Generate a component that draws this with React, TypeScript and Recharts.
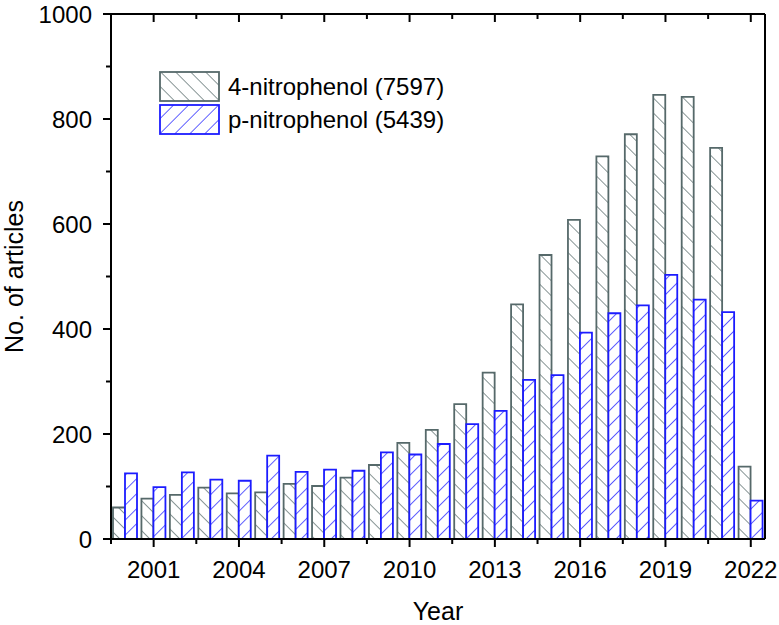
import React from "react";
import { Bar, BarChart, Legend, XAxis, YAxis } from "recharts";

const years = [
  2000, 2001, 2002, 2003, 2004, 2005, 2006, 2007, 2008, 2009, 2010, 2011,
  2012, 2013, 2014, 2015, 2016, 2017, 2018, 2019, 2020, 2021, 2022,
];
const nitro4 = [
  60, 77, 84, 98, 87, 89, 105, 101, 117, 141, 183, 208, 257, 317, 447, 541,
  608, 729, 771, 846, 842, 745, 138,
];
const pNitro = [
  125, 99, 127, 113, 111, 159, 128, 132, 130, 165, 161, 181, 219, 244, 303,
  312, 393, 430, 445, 503, 456, 432, 73,
];
const xTicks = [
  1999.5, 2001, 2002.5, 2004, 2005.5, 2007, 2008.5, 2010, 2011.5, 2013,
  2014.5, 2016, 2017.5, 2019, 2020.5, 2022,
];
const yTicks = [0, 100, 200, 300, 400, 500, 600, 700, 800, 900, 1000];
const seriesNames = ["4-nitrophenol (7597)", "p-nitrophenol (5439)"];

const GREY = "#56696a";
const BLUE = "#1c1cff";
const FONT = '"Liberation Sans", Arial, sans-serif';

const data = years.map((year, i) => ({
  year,
  nitro4: nitro4[i],
  pNitro: pNitro[i],
}));

const Hatch = ({ id, color, angle, gap }: any) => (
  <pattern
    id={id}
    width={gap}
    height={gap}
    patternUnits="userSpaceOnUse"
    patternTransform={`rotate(${angle})`}
  >
    <rect width={gap} height={gap} fill="#fff" />
    <line x1={0} y1={0} x2={0} y2={gap} stroke={color} strokeWidth={1.4} />
  </pattern>
);

const BottomTick = ({ x, y, payload }: any) => {
  const major = Number.isInteger(payload.value);
  return (
    <g>
      <line x1={x} y1={y} x2={x} y2={y + (major ? 8 : 5)} stroke="#000" strokeWidth={2} />
      {major && (
        <text x={x} y={y + 39} textAnchor="middle" fontSize={24} fontFamily={FONT} fill="#000">
          {payload.value}
        </text>
      )}
    </g>
  );
};

const TopTick = ({ x, y, payload }: any) => {
  const major = Number.isInteger(payload.value);
  return <line x1={x} y1={y} x2={x} y2={y + (major ? 8 : 5)} stroke="#000" strokeWidth={2} />;
};

const LeftTick = ({ x, y, payload }: any) => {
  const major = payload.value % 200 === 0;
  return (
    <g>
      <line x1={x} y1={y} x2={x - (major ? 8 : 5)} y2={y} stroke="#000" strokeWidth={2} />
      {major && (
        <text x={x - 19} y={y + 8.5} textAnchor="end" fontSize={24} fontFamily={FONT} fill="#000">
          {payload.value}
        </text>
      )}
    </g>
  );
};

const RightTick = ({ x, y, payload }: any) => {
  const major = payload.value % 200 === 0;
  return <line x1={x} y1={y} x2={x - (major ? 8 : 5)} y2={y} stroke="#000" strokeWidth={2} />;
};

const LegendBox = () => (
  <div style={{ fontFamily: FONT, fontSize: 24, color: "#000" }}>
    {seriesNames.map((name, i) => (
      <div key={name} style={{ display: "flex", alignItems: "center", height: 31, marginBottom: 2 }}>
        <svg width={62} height={31} style={{ display: "block" }}>
          <rect
            x={1}
            y={1}
            width={59}
            height={29}
            fill={i === 0 ? "url(#hatchGrey)" : "url(#hatchBlue)"}
            stroke={i === 0 ? GREY : BLUE}
            strokeWidth={1.8}
          />
        </svg>
        <span style={{ marginLeft: 7, whiteSpace: "nowrap" }}>{name}</span>
      </div>
    ))}
  </div>
);

export default function App() {
  return (
    <div style={{ position: "absolute", left: 0, top: 0, width: 779, height: 625, background: "#fff" }}>
      <BarChart
        width={779}
        height={625}
        data={data}
        margin={{ top: 13, right: 13, bottom: 85, left: 110 }}
        barSize={12}
        barGap={0}
      >
        <defs>
          <Hatch id="hatchGrey" color={GREY} angle={-45} gap={10.6} />
          <Hatch id="hatchBlue" color={BLUE} angle={45} gap={10.6} />
        </defs>
        <XAxis
          xAxisId="num"
          dataKey="year"
          type="number"
          domain={[1999.5, 2022.5]}
          ticks={xTicks}
          interval={0}
          allowDataOverflow
          height={1}
          tickSize={0}
          tickMargin={0}
          tick={<BottomTick />}
          axisLine={{ stroke: "#000", strokeWidth: 2 }}
          label={{ value: "Year", position: "bottom", offset: 62, fontSize: 25, fontFamily: FONT, fill: "#000" }}
        />
        <XAxis
          xAxisId="top"
          dataKey="year"
          orientation="top"
          type="number"
          domain={[1999.5, 2022.5]}
          ticks={xTicks}
          interval={0}
          allowDataOverflow
          height={1}
          tickSize={0}
          tickMargin={0}
          tick={<TopTick />}
          axisLine={{ stroke: "#000", strokeWidth: 2 }}
        />
        <YAxis
          yAxisId="left"
          domain={[0, 1000]}
          ticks={yTicks}
          interval={0}
          width={1}
          tickSize={0}
          tickMargin={0}
          tick={<LeftTick />}
          axisLine={{ stroke: "#000", strokeWidth: 2 }}
          label={{
            content: ({ viewBox }: any) => {
              const lx = viewBox.x - 87;
              const ly = viewBox.y + viewBox.height / 2;
              return (
                <text
                  x={lx}
                  y={ly}
                  transform={`rotate(-90 ${lx} ${ly})`}
                  textAnchor="middle"
                  fontSize={25}
                  fontFamily={FONT}
                  fill="#000"
                >
                  No. of articles
                </text>
              );
            },
          }}
        />
        <YAxis
          yAxisId="right"
          orientation="right"
          domain={[0, 1000]}
          ticks={yTicks}
          interval={0}
          width={1}
          tickSize={0}
          tickMargin={0}
          tick={<RightTick />}
          axisLine={{ stroke: "#000", strokeWidth: 2 }}
        />
        <Legend
          layout="horizontal"
          verticalAlign="middle"
          align="center"
          content={<LegendBox />}
          wrapperStyle={{ left: 159, top: 71, width: 320 }}
        />
        <Bar
          xAxisId="num"
          yAxisId="left"
          dataKey="nitro4"
          name={seriesNames[0]}
          fill="url(#hatchGrey)"
          stroke={GREY}
          strokeWidth={1.8}
          isAnimationActive={false}
        />
        <Bar
          xAxisId="num"
          yAxisId="left"
          dataKey="pNitro"
          name={seriesNames[1]}
          fill="url(#hatchBlue)"
          stroke={BLUE}
          strokeWidth={1.8}
          isAnimationActive={false}
        />
      </BarChart>
    </div>
  );
}
